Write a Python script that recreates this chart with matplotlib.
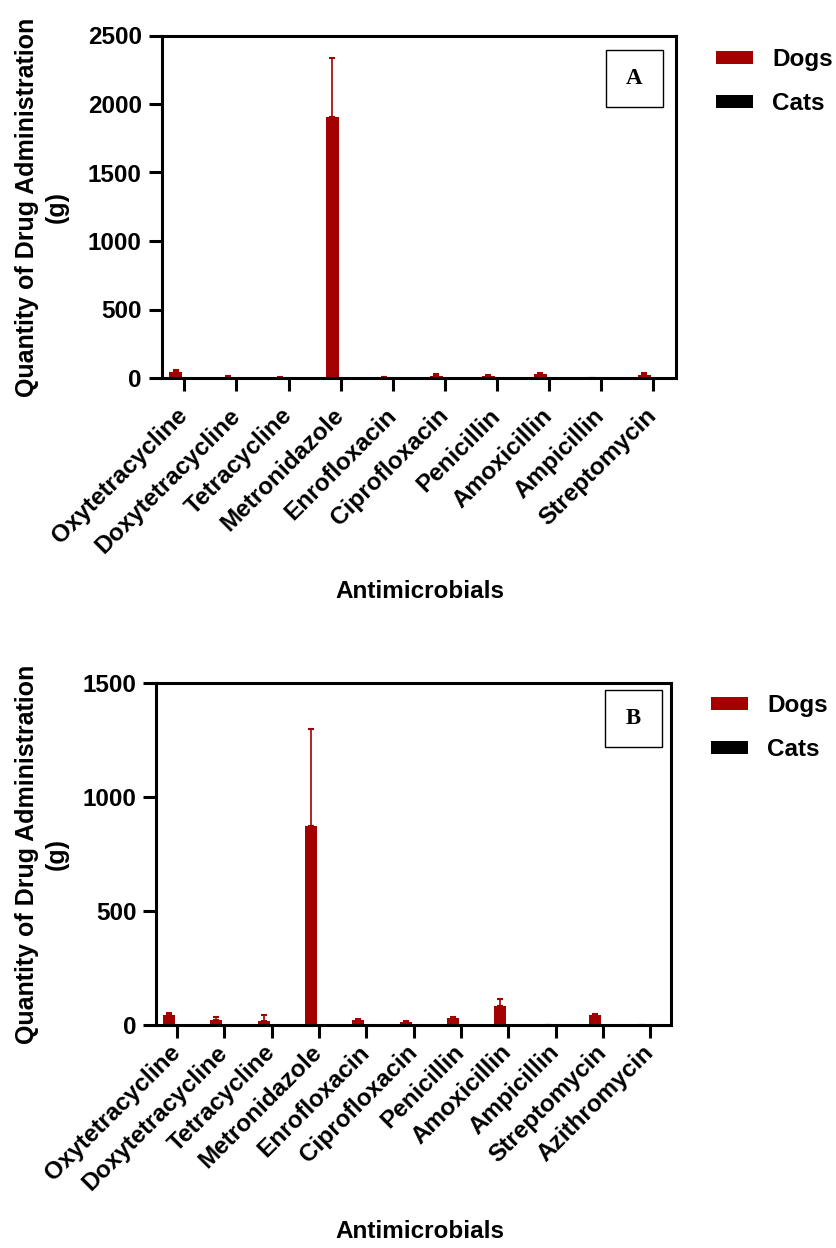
import numpy as np
import matplotlib
matplotlib.use("Agg")
import matplotlib.pyplot as plt
from matplotlib.patches import Rectangle

# ---------------- data ----------------
drugs_a = ["Oxytetracycline", "Doxytetracycline", "Tetracycline", "Metronidazole",
           "Enrofloxacin", "Ciprofloxacin", "Penicillin", "Amoxicillin",
           "Ampicillin", "Streptomycin"]
dogs_a = [45, 8, 3, 1902, 4, 18, 15, 28, 0, 25]
dogs_a_err = [10, 3, 2, 432, 2, 8, 6, 8, 0, 8]
cats_a = [0, 0, 0, 0, 0, 0, 0, 0, 0, 0]

drugs_b = ["Oxytetracycline", "Doxytetracycline", "Tetracycline", "Metronidazole",
           "Enrofloxacin", "Ciprofloxacin", "Penicillin", "Amoxicillin",
           "Ampicillin", "Streptomycin", "Azithromycin"]
dogs_b = [42, 19, 15, 870, 19, 12, 29, 81, 0, 42, 0]
dogs_b_err = [9, 14, 25, 430, 4, 3, 3, 29, 0, 2, 0]
cats_b = [0, 0, 0, 0, 0, 0, 0, 0, 0, 0, 0]

yticks_a = [0, 500, 1000, 1500, 2000, 2500]
yticks_b = [0, 500, 1000, 1500]
series_labels = ["Dogs", "Cats"]
panel_letters = ["A", "B"]

# ---------------- style ----------------
W, H = 837, 1248
DPI = 100
RED = "#A30000"
FS = 17.5
plt.rcParams["font.family"] = ["Liberation Sans", "DejaVu Sans"]
plt.rcParams["font.weight"] = "bold"

fig = plt.figure(figsize=(W / DPI, H / DPI), dpi=DPI)


def px_axes(l, r, t, b):
    return fig.add_axes([l / W, 1 - b / H, (r - l) / W, (b - t) / H])


def panel(ax, names, dogs, err, cats, yticks, letter, box, leg_xy, label_y, xlabel_y, xpad):
    n = len(names)
    x = np.arange(n)
    w = 0.25
    off = 0.165
    ax.bar(x - off, dogs, w, color=RED, label=series_labels[0], zorder=2)
    ax.errorbar(x - off, dogs, yerr=[np.zeros(n), err], fmt="none", ecolor=RED,
                elinewidth=1.2, capsize=2.3, capthick=1.5, zorder=1.9)
    ax.bar(x + off, cats, w, color="black", label=series_labels[1], zorder=2)
    ax.set_xlim(-0.43, n - 1 + 0.44)
    ax.set_ylim(yticks[0], yticks[-1])
    ax.set_yticks(yticks)
    ax.set_xticks(x)
    ax.set_xticklabels(names, rotation=45, ha="right", va="center",
                       rotation_mode="anchor", fontsize=FS, fontweight="bold")
    for s in ax.spines.values():
        s.set_linewidth(2.2)
    ax.tick_params(axis="both", direction="out", length=9.5, width=2.2, labelsize=FS, pad=5)
    ax.tick_params(axis="x", pad=xpad)
    for lab in ax.get_yticklabels():
        lab.set_fontweight("bold")
    # legend
    leg = ax.legend(loc="upper left", bbox_to_anchor=(leg_xy[0] / W, 1 - leg_xy[1] / H),
                    bbox_transform=fig.transFigure, frameon=False, fontsize=FS,
                    handlelength=1.52, handleheight=0.45, handletextpad=0.78,
                    labelspacing=0.86, borderpad=0, borderaxespad=0)
    for t in leg.get_texts():
        t.set_fontweight("bold")
    # panel letter box
    bl, br, bt, bb = box
    fig.patches.append(Rectangle((bl / W, 1 - bb / H), (br - bl) / W, (bb - bt) / H,
                                 transform=fig.transFigure, fill=True, facecolor="white",
                                 edgecolor="black", linewidth=1.0, zorder=5))
    fig.text((bl + br) / 2 / W, 1 - (bt + bb) / 2 / H, letter, ha="center", va="center",
             fontsize=16.5, fontweight="bold", family="Liberation Serif", zorder=6)
    # axis labels
    fig.text(42 / W, 1 - label_y / H, "Quantity of Drug Administration\n(g)", rotation=90,
             ha="center", va="center", multialignment="center", fontsize=18,
             fontweight="bold", linespacing=1.3)
    fig.text(420 / W, 1 - xlabel_y / H, "Antimicrobials", ha="center", va="center",
             fontsize=FS, fontweight="bold")


axA = px_axes(162, 676, 35.5, 378)
panel(axA, drugs_a, dogs_a, dogs_a_err, cats_a, yticks_a, panel_letters[0],
      (606, 663, 50, 107), (716, 48), 207, 592, 15)

axB = px_axes(156.5, 671, 683, 1024.5)
panel(axB, drugs_b, dogs_b, dogs_b_err, cats_b, yticks_b, panel_letters[1],
      (605, 662, 690, 747), (711, 694), 854, 1232, 8)

fig.savefig("out.png", dpi=DPI)
